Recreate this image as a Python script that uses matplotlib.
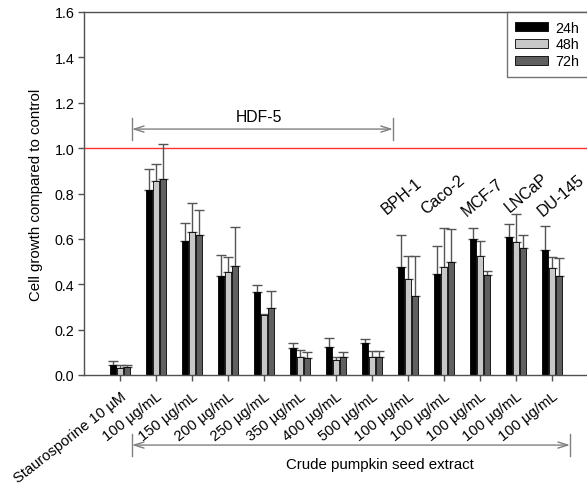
import matplotlib
matplotlib.use('Agg')
import matplotlib.pyplot as plt
import matplotlib.transforms as mtransforms
import numpy as np

plt.rcParams['font.family'] = ['Liberation Sans', 'DejaVu Sans']

# ---------------- data ----------------
categories = ['Staurosporine 10 µM', '100 µg/mL', '150 µg/mL', '200 µg/mL',
              '250 µg/mL', '350 µg/mL', '400 µg/mL', '500 µg/mL',
              '100 µg/mL', '100 µg/mL', '100 µg/mL', '100 µg/mL', '100 µg/mL']
series_names = ['24h', '48h', '72h']

mean_24h = [0.045, 0.815, 0.589, 0.435, 0.364, 0.119, 0.125, 0.141, 0.477, 0.445, 0.600, 0.610, 0.551]
err_24h  = [0.018, 0.093, 0.081, 0.095, 0.034, 0.022, 0.037, 0.018, 0.140, 0.125, 0.048, 0.056, 0.104]
mean_48h = [0.030, 0.853, 0.629, 0.455, 0.266, 0.081, 0.068, 0.078, 0.423, 0.477, 0.526, 0.588, 0.472]
err_48h  = [0.015, 0.077, 0.129, 0.066, 0.004, 0.031, 0.010, 0.029, 0.103, 0.171, 0.063, 0.122, 0.049]
mean_72h = [0.034, 0.864, 0.618, 0.482, 0.295, 0.073, 0.078, 0.078, 0.350, 0.497, 0.442, 0.560, 0.438]
err_72h  = [0.011, 0.154, 0.109, 0.170, 0.074, 0.027, 0.025, 0.029, 0.176, 0.146, 0.018, 0.057, 0.078]

cell_lines = ['BPH-1', 'Caco-2', 'MCF-7', 'LNCaP', 'DU-145']
cell_line_groups = [8, 9, 10, 11, 12]

y_ticks = [0.0, 0.2, 0.4, 0.6, 0.8, 1.0, 1.2, 1.4, 1.6]

# ---------------- figure ----------------
fig = plt.figure(figsize=(5.87, 4.89), dpi=100)
ax = fig.add_axes([84/587, 113/489, 504/587, 363/489])

x = np.arange(len(categories))
means = [mean_24h, mean_48h, mean_72h]
errs = [err_24h, err_48h, err_72h]
colors = ['#000000', '#c8c8c8', '#606060']
offsets = [-0.2, 0.0, 0.2]
width = 0.16

for m, e, c, off, name in zip(means, errs, colors, offsets, series_names):
    m = np.array(m); e = np.array(e)
    ax.bar(x + off, m, width, color=c, edgecolor='black', linewidth=0.6,
           label=name, zorder=2)
    ax.errorbar(x + off, m, yerr=[np.zeros_like(e), e], fmt='none',
                ecolor='#555555', elinewidth=1.0, capsize=3.3, capthick=1.0,
                zorder=1)

ax.axhline(1.0, color='#ff3030', lw=1.0, zorder=0)

ax.set_xlim(-1, 13)
ax.set_ylim(0, 1.6)
ax.set_yticks(y_ticks)
ax.set_yticklabels([f'{v:.1f}' for v in y_ticks], fontsize=10.3)
ax.set_xticks(x)
ax.set_xticklabels(categories, rotation=38, ha='right', va='top',
                   rotation_mode='anchor', fontsize=10.6)
ax.tick_params(axis='both', direction='out', length=4, width=1,
               color='#505050', pad=3)
ax.tick_params(axis='x', pad=6)
ax.set_ylabel('Cell growth compared to control', fontsize=10.8, labelpad=8)

for s in ['left', 'top', 'bottom']:
    ax.spines[s].set_color('#505050')
    ax.spines[s].set_linewidth(1.0)
ax.spines['right'].set_visible(False)

# HDF-5 bracket
gray = '#808080'
hy = 1.084
ax.annotate('', xy=(0.333, hy), xytext=(7.58, hy),
            arrowprops=dict(arrowstyle='<->,head_length=0.7,head_width=0.22',
                            color=gray, lw=1.0, shrinkA=0, shrinkB=0))
for xe in (0.333, 7.58):
    ax.plot([xe, xe], [hy - 0.048, hy + 0.048], color=gray, lw=1.0)
ax.text(3.86, 1.141, 'HDF-5', ha='center', va='center', fontsize=11.3)

# Crude extract bracket (below axis)
trans = mtransforms.blended_transform_factory(ax.transData, ax.transAxes)
by = -0.193
ax.annotate('', xy=(0.333, by), xytext=(12.5, by), xycoords=trans,
            textcoords=trans, annotation_clip=False,
            arrowprops=dict(arrowstyle='<->,head_length=0.7,head_width=0.22',
                            color=gray, lw=1.0, shrinkA=0, shrinkB=0))
for xe in (0.333, 12.5):
    ax.plot([xe, xe], [by - 0.03, by + 0.03], color=gray, lw=1.0,
            transform=trans, clip_on=False)
ax.text(7.22, -0.245, 'Crude pumpkin seed extract', transform=trans,
        ha='center', va='center', fontsize=10.8)

# cell line labels
label_dx = [-0.58, -0.5, -0.36, -0.17, -0.25]
label_y = [0.71, 0.71, 0.70, 0.72, 0.70]
for name, g, dx, ly in zip(cell_lines, cell_line_groups, label_dx, label_y):
    ax.text(g + dx, ly, name, rotation=40, rotation_mode='anchor',
            ha='left', va='baseline', fontsize=11.5)

leg = ax.legend(loc='upper right', bbox_to_anchor=(1.0, 1.0),
                fontsize=10.3, frameon=True, fancybox=False,
                borderaxespad=0, handlelength=2.3, handleheight=0.55,
                labelspacing=0.2, handletextpad=0.5, borderpad=0.6)
leg.get_frame().set_edgecolor('#505050')
leg.get_frame().set_linewidth(1.0)

fig.savefig('out.png', dpi=100)
